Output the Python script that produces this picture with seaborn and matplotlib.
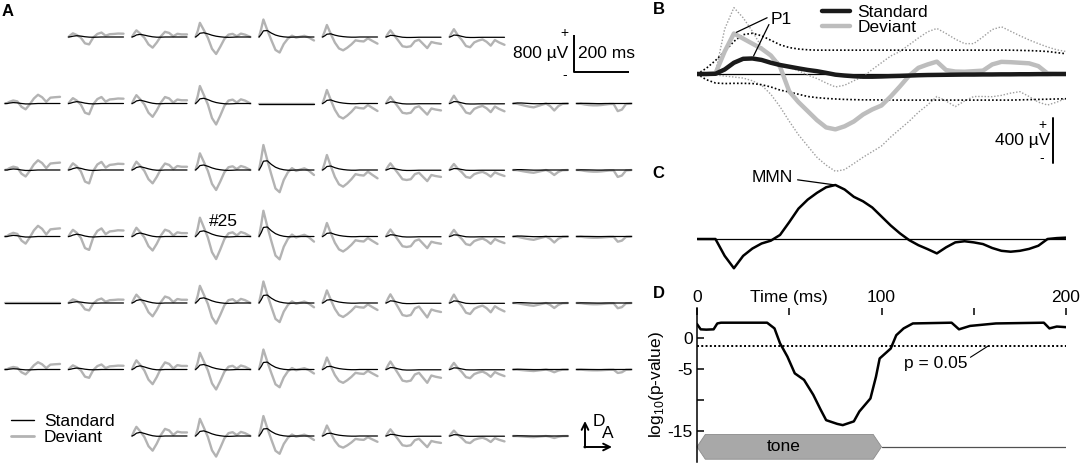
import numpy as np
import pandas as pd
import seaborn as sns
import matplotlib.pyplot as plt
from matplotlib.lines import Line2D
from matplotlib.patches import Polygon

sns.set_theme(style='white')
plt.rcParams['font.family'] = ['Liberation Sans', 'DejaVu Sans']
plt.rcParams['mathtext.fontset'] = 'custom'
plt.rcParams['mathtext.rm'] = 'Liberation Sans'
plt.rcParams['text.color'] = 'black'
plt.rcParams['axes.labelcolor'] = 'black'
plt.rcParams['xtick.color'] = 'black'
plt.rcParams['ytick.color'] = 'black'

# ---------------- data ----------------
# panel A: per column waveform templates (uV) sampled at T_CELL (ms)
T_CELL = [0, 8, 16, 30, 45, 60, 75, 90, 105, 120, 135, 150, 165, 180, 200]
DEV_TEMPLATE = [
    [0, 10, 40, 72, 50, -80, -140, -20, 120, 210, 150, 40, 140, 150, 160],
    [0, 80, 144, 80, -30, -250, -290, -20, 120, 175, 50, 110, 120, 135, 130],
    [0, 100, 180, 90, -20, -200, -288, -150, 20, 140, 110, 20, 86, 70, 70],
    [0, 150, 360, 180, -20, -300, -432, -250, -50, 60, 80, 20, 86, 60, 0],
    [0, 250, 540, 216, -100, -400, -480, -216, -50, 40, -20, 10, 36, -10, -108],
    [0, 150, 324, 86, -150, -310, -360, -290, -200, -90, -110, -120, -36, -100, -180],
    [0, 80, 144, 36, -80, -200, -216, -200, -90, -60, -150, -240, -108, -130, -150],
    [0, 70, 130, 30, -50, -150, -170, -90, -60, -40, -80, -144, -50, -90, -130],
    [0, 0, -5, -20, -36, -50, -60, -40, -20, 0, -40, -108, -40, -5, 0],
    [0, 0, -5, -20, -30, -36, -36, -30, -20, -10, -10, -150, -120, -10, 0],
]
STD_TEMPLATE = [
    [0, 0, 10, 22, 15, 0, -10, -10, -5, 0, 0, 0, 0, 0, 0],
    [0, 10, 30, 50, 35, 10, -5, -10, -5, 0, 0, 0, 0, 0, 0],
    [0, 20, 55, 72, 50, 25, 5, -5, -5, 0, 0, 0, 0, 0, 0],
    [0, 40, 95, 108, 80, 45, 20, 5, -5, -8, -5, 0, 0, 0, 0],
    [0, 80, 190, 200, 120, 60, 25, 5, -5, -5, 0, 0, 0, 0, 0],
    [0, 30, 75, 86, 50, 25, 10, 0, -5, -5, 0, 0, 0, 0, 0],
    [0, 15, 36, 30, 10, -5, -10, -10, -8, -5, -5, -5, -5, -5, -5],
    [0, 12, 32, 28, 10, -5, -8, -8, -6, -5, -5, -5, -5, -5, -5],
    [0, 3, 8, 8, 4, 0, -3, -3, -2, 0, 0, 0, 0, 0, 0],
    [0, 0, 3, 3, 2, 0, -2, -2, 0, 0, 0, 0, 0, 0, 0],
]
nan = np.nan
CELL_GAIN = [
    [nan, 0.55, 0.8, 0.85, 0.7, 0.8, 1.0, 1.3, nan, nan],
    [0.9, 0.8, 1.0, 1.05, 0.0, 0.9, 1.0, 1.3, 1.4, 1.1],
    [1.0, 1.0, 1.0, 1.0, 1.0, 1.0, 1.0, 1.0, 1.0, 1.0],
    [1.1, 1.0, 1.05, 1.13, 1.03, 0.9, 1.05, 1.1, 1.2, 0.75],
    [0.0, 0.55, 1.0, 1.03, 0.86, 0.84, 1.3, 1.4, 1.0, 0.75],
    [0.75, 0.62, 1.1, 1.0, 0.8, 0.8, 1.2, 1.1, 0.55, 0.5],
    [nan, nan, 1.1, 1.03, 0.8, 0.7, 1.0, 0.9, 0.4, nan],
]

# panel B / C: grand averages (uV) every 5 ms
T_B = list(range(0, 201, 5))
STD_MEAN = [0, 0, 2, 40, 100, 135, 138, 125, 100, 80, 65, 50, 36, 25, 10, -6, -14, -20, -24, -24,
            -22, -19, -17, -14, -11, -9, -8, -7, -6, -5, -5, -4, -4, -3, -3, -2, -2, -1, -1, 0, 0]
STD_UPPER = [0, 50, 120, 200, 290, 350, 362, 340, 300, 260, 235, 222, 215, 212, 212, 212, 212, 212, 212, 212,
             212, 212, 212, 212, 212, 212, 212, 212, 212, 212, 212, 212, 212, 212, 212, 210, 208, 205, 200, 190, 180]
STD_LOWER = [0, -50, -80, -85, -83, -83, -85, -95, -115, -143, -160, -180, -200, -210, -217, -222, -226, -228, -230, -230,
             -231, -232, -232, -232, -232, -232, -232, -232, -232, -232, -232, -232, -232, -232, -232, -230, -228, -226, -224, -222, -220]
DEV_MEAN = [0, 0, 5, 200, 360, 315, 270, 225, 165, 65, -155, -250, -330, -410, -475, -492, -465, -422, -360, -315,
            -280, -200, -110, -15, 55, 85, 110, 35, 22, 20, 25, 30, 85, 108, 105, 100, 95, 70, 5, 0, 0]
DEV_UPPER = [0, 0, 10, 400, 590, 500, 380, 240, 160, 95, 60, 30, -10, -40, -80, -115, -100, -60, -24, 40,
             100, 160, 200, 260, 320, 375, 405, 360, 310, 270, 270, 330, 395, 420, 380, 340, 303, 270, 240, 215, 200]
DEV_LOWER = [0, -5, -9, -18, -27, -36, -60, -100, -180, -291, -420, -540, -640, -740, -810, -865, -850, -796, -740, -690,
             -640, -560, -490, -420, -340, -275, -200, -240, -290, -240, -200, -200, -202, -190, -170, -157, -200, -250, -276, -250, -217]
MMN = [0, 0, 0, -150, -260, -150, -85, -40, -15, 36, 150, 270, 350, 410, 460, 480, 440, 375, 335, 280,
       200, 120, 50, -10, -55, -90, -128, -74, -30, -20, -30, -45, -80, -105, -113, -105, -88, -60, 0, 8, 12]

# panel D: log10(p-value)
T_P = [0, 2, 5, 9, 11, 13, 38, 42, 45, 49, 53, 58, 63, 67, 70, 76, 79, 85, 88, 94, 97, 99,
       105, 108, 112, 117, 138, 142, 148, 162, 188, 191, 195, 200]
LOG_P = [2.2, 1.35, 1.3, 1.35, 2.3, 2.42, 2.42, 1.5, -0.9, -3.05, -5.75, -6.8, -9.2, -11.6, -13.3, -13.9,
         -14.1, -13.5, -11.9, -9.8, -6.3, -3.35, -1.75, 0.4, 1.5, 2.3, 2.42, 1.35, 1.9, 2.3, 2.42, 1.5, 1.8, 1.7]
P_THRESH = 0.05
TONE_MS = (0, 100)

# ---------------- layout ----------------
W, H = 1084, 466
FS = 12.5
GRAY = '#b3b3b3'
fig = plt.figure(figsize=(W / 100, H / 100), dpi=100)


def fx(px):
    return px / W


def fy(py):
    return 1 - py / H


# ---------------- panel A ----------------
PX_MS = 55 / 200      # pixels per ms in the small traces
PX_UV = 37 / 800      # pixels per uV
COL_PITCH = 63.5 / PX_MS
ROW_PITCH = 66.5 / PX_UV
A_W = 650
axA = fig.add_axes([0, 0, fx(A_W), 1])
axA.set_xlim(-5 / PX_MS, (A_W - 5) / PX_MS)
axA.set_ylim(-(H - 37) / PX_UV, 37 / PX_UV)
axA.axis('off')

recs = []
for r, gains in enumerate(CELL_GAIN):
    for c, g in enumerate(gains):
        if np.isnan(g):
            continue
        for t, d, s in zip(T_CELL, DEV_TEMPLATE[c], STD_TEMPLATE[c]):
            recs.append(dict(cell=r * 10 + c, x=t + c * COL_PITCH,
                             dev=g * d - r * ROW_PITCH, std=g * s - r * ROW_PITCH))
dfa = pd.DataFrame(recs)
sns.lineplot(data=dfa, x='x', y='dev', units='cell', estimator=None, sort=False,
             color=GRAY, lw=1.7, ax=axA, legend=False)
sns.lineplot(data=dfa, x='x', y='std', units='cell', estimator=None, sort=False,
             color='black', lw=0.9, ax=axA, legend=False)
axA.text(3 * COL_PITCH + 100, -3 * ROW_PITCH + 330, '#25', ha='center', va='center', fontsize=FS)

# scale bar
sx0 = (574 - 5) / PX_MS
sy0 = -(72 - 37) / PX_UV
axA.plot([sx0, sx0, sx0 + 200], [sy0 + 800, sy0, sy0], color='black', lw=1.4, solid_capstyle='butt')
axA.text(sx0 - 22, sy0 + 400, '800 µV', ha='right', va='center', fontsize=FS)
axA.text(sx0 + 15, sy0 + 400, '200 ms', ha='left', va='center', fontsize=FS)
axA.text(sx0 - 35, sy0 + 850, '+', ha='center', va='center', fontsize=10)
axA.text(sx0 - 35, sy0 - 60, '-', ha='center', va='center', fontsize=10)

handles = [Line2D([], [], color='black', lw=1.0), Line2D([], [], color=GRAY, lw=2.0)]
axA.legend(handles, ['Standard', 'Deviant'], loc='upper left', bbox_to_anchor=(fx(11), fy(414)),
           bbox_transform=fig.transFigure, frameon=False, fontsize=FS, handlelength=1.35,
           handletextpad=0.55, labelspacing=0.03, borderpad=0, borderaxespad=0)

# orientation arrows
axA.annotate('', xy=(fx(585), fy(421)), xytext=(fx(585), fy(447.5)), xycoords='figure fraction',
             arrowprops=dict(arrowstyle='->', lw=1.4, color='black', shrinkA=0, shrinkB=0))
axA.annotate('', xy=(fx(612), fy(447)), xytext=(fx(584.3), fy(447)), xycoords='figure fraction',
             arrowprops=dict(arrowstyle='->', lw=1.4, color='black', shrinkA=0, shrinkB=0))
fig.text(fx(599), fy(422), 'D', ha='center', va='center', fontsize=FS)
fig.text(fx(608), fy(433), 'A', ha='center', va='center', fontsize=FS)

# ---------------- panel B ----------------
PXB = 45 / 400
axB = fig.add_axes([fx(697), fy(178), 369 / W, 178 / H])
axB.set_xlim(0, 200)
axB.set_ylim(-(178 - 74) / PXB, 74 / PXB)
axB.axis('off')
axB.axhline(0, color='black', lw=0.9)
sns.lineplot(x=T_B, y=DEV_UPPER, ax=axB, color='#9e9e9e', lw=1.0, linestyle=(0, (1, 1.3)))
sns.lineplot(x=T_B, y=DEV_LOWER, ax=axB, color='#9e9e9e', lw=1.0, linestyle=(0, (1, 1.3)))
sns.lineplot(x=T_B, y=STD_UPPER, ax=axB, color='black', lw=1.2, linestyle=(0, (1, 1.3)))
sns.lineplot(x=T_B, y=STD_LOWER, ax=axB, color='black', lw=1.2, linestyle=(0, (1, 1.3)))
sns.lineplot(x=T_B, y=DEV_MEAN, ax=axB, color='#bdbdbd', lw=3.2, label='Deviant')
sns.lineplot(x=T_B, y=STD_MEAN, ax=axB, color='#1a1a1a', lw=3.2, label='Standard')
hB, lB = axB.get_legend_handles_labels()
axB.legend(hB[::-1], lB[::-1], loc='upper left', bbox_to_anchor=(fx(822), fy(4.5)),
           bbox_transform=fig.transFigure, frameon=False, fontsize=FS, handlelength=1.6,
           handletextpad=0.45, labelspacing=0.0, borderpad=0, borderaxespad=0)

i_dev = int(np.argmax(DEV_MEAN))
i_std = int(np.argmax(STD_MEAN))
axB.text(40, 480, 'P1', ha='left', va='center', fontsize=FS)
axB.annotate('', xy=(T_B[i_dev], DEV_MEAN[i_dev]), xytext=(38, 500),
             arrowprops=dict(arrowstyle='-', lw=0.9, color='black', shrinkA=0, shrinkB=2))
axB.annotate('', xy=(T_B[i_std], STD_MEAN[i_std]), xytext=(39, 440),
             arrowprops=dict(arrowstyle='-', lw=0.9, color='black', shrinkA=0, shrinkB=2))

bx = 193
by0 = -(163 - 74) / PXB
axB.plot([bx, bx], [by0, by0 + 400], color='black', lw=1.4, clip_on=False)
axB.text(bx - 1.5, by0 + 200, '400 µV', ha='right', va='center', fontsize=FS)
axB.text(bx - 6, by0 + 340, '+', ha='center', va='center', fontsize=10)
axB.text(bx - 6, by0 + 40, '-', ha='center', va='center', fontsize=10)

# ---------------- panel C ----------------
axC = fig.add_axes([fx(697), fy(285), 369 / W, 110 / H])
axC.set_xlim(0, 200)
axC.set_ylim(-(285 - 239) / PXB, (239 - 175) / PXB)
axC.axis('off')
axC.axhline(0, color='black', lw=0.9)
sns.lineplot(x=T_B, y=MMN, ax=axC, color='black', lw=1.8)
i_mmn = int(np.argmax(MMN))
axC.annotate('MMN', xy=(T_B[i_mmn], MMN[i_mmn]), xytext=(52, 545), ha='right', va='center',
             fontsize=FS, arrowprops=dict(arrowstyle='-', lw=0.9, color='black',
                                          shrinkA=1, shrinkB=1, relpos=(1, 0.4)))

# ---------------- panel D ----------------
axD = fig.add_axes([fx(697), fy(462), 369 / W, (462 - 308) / H])
axD.set_xlim(0, 200)
axD.set_ylim(-(462 - 337.7) / 6.2, (337.7 - 308) / 6.2)
for side in ['top', 'right', 'bottom']:
    axD.spines[side].set_visible(False)
axD.spines['left'].set_color('black')
axD.spines['left'].set_linewidth(1.1)
axD.xaxis.tick_top()
axD.set_xticks([0, 50, 100, 150, 200])
axD.set_xticklabels(['0', 'Time (ms)', '100', '', '200'])
axD.set_yticks([0, -5, -10, -15])
axD.set_yticklabels(['0', '-5', '', '-15'])
axD.tick_params(axis='x', top=True, bottom=False, direction='in', length=5, width=1.1,
                labelsize=FS, pad=2)
axD.tick_params(axis='y', left=True, direction='in', length=5, width=1.1, labelsize=FS, pad=3)
axD.set_ylabel(r'log$_{10}$(p-value)', fontsize=FS, labelpad=1)
axD.grid(False)

p_line = np.log10(P_THRESH)
axD.axhline(p_line, color='black', lw=1.4, linestyle=(0, (1, 1.2)))
sns.lineplot(x=T_P, y=LOG_P, ax=axD, color='black', lw=1.8)
axD.annotate('p = 0.05', xy=(158, p_line), xytext=(112, -4.1), ha='left', va='center', fontsize=FS,
             arrowprops=dict(arrowstyle='-', lw=0.8, color='black', shrinkA=0, shrinkB=0,
                             relpos=(1, 0.75)))

tone_y, tone_h = -17.6, 2.0
t0, t1 = TONE_MS
tone = Polygon([(t0, tone_y), (t0 + 4.5, tone_y + tone_h), (t1 - 4.5, tone_y + tone_h), (t1, tone_y),
                (t1 - 4.5, tone_y - tone_h), (t0 + 4.5, tone_y - tone_h)],
               closed=True, facecolor='#a8a8a8', edgecolor='#8c8c8c', lw=0.6, clip_on=False)
axD.add_patch(tone)
axD.plot([t1, 200], [tone_y, tone_y], color='#505050', lw=0.9)
axD.text((t0 + t1) / 2 - 3, tone_y, 'tone', ha='center', va='center', fontsize=FS)

# panel letters
for lab, (px, py) in {'A': (8, 12), 'B': (659, 9), 'C': (658, 173), 'D': (659, 293)}.items():
    fig.text(fx(px), fy(py), lab, ha='center', va='center', fontsize=12, fontweight='bold')

fig.savefig('out.png', dpi=100)
